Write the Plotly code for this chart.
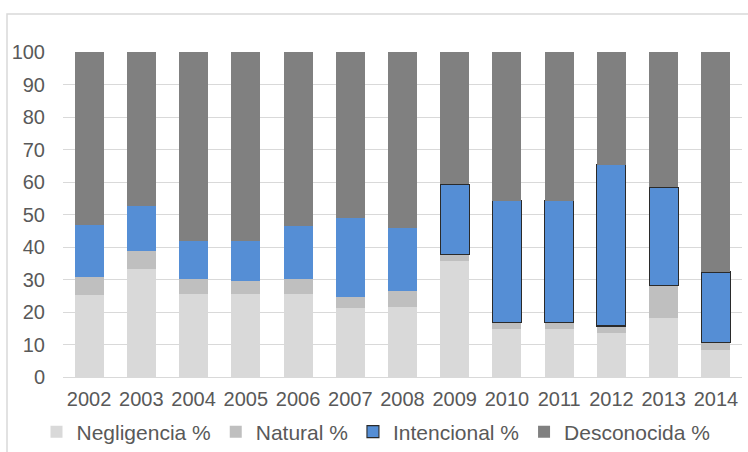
import plotly.graph_objects as go

years = ["2002", "2003", "2004", "2005", "2006", "2007", "2008",
         "2009", "2010", "2011", "2012", "2013", "2014"]
negligencia = [25.1, 33.1, 25.5, 25.5, 25.5, 21.2, 21.6, 35.8, 14.7, 14.7, 13.6, 18.3, 8.4]
natural = [5.7, 5.6, 4.6, 4.0, 4.8, 3.5, 4.9, 1.8, 2.2, 2.2, 2.1, 9.8, 2.2]
intencional = [16.1, 13.9, 11.7, 12.3, 16.1, 24.3, 19.2, 21.7, 37.4, 37.4, 49.6, 30.3, 21.7]
desconocida = [round(100 - a - b - c, 1) for a, b, c in zip(negligencia, natural, intencional)]
outlined = [0, 0, 0, 0, 0, 0, 0, 1, 1, 1, 1, 1, 1]

FONT = "Liberation Sans, Arial, sans-serif"
TXT = "#595959"

fig = go.Figure()
fig.add_bar(x=years, y=negligencia, name="Negligencia %",
            marker=dict(color="#D9D9D9", line=dict(width=0)))
fig.add_bar(x=years, y=natural, name="Natural %",
            marker=dict(color="#BFBFBF", line=dict(width=0)))
# fed in reverse order so the legend swatch takes the outlined style
fig.add_bar(x=years[::-1], y=intencional[::-1], name="Intencional %",
            marker=dict(color="#558ED5",
                        line=dict(color="#2a2a2a", width=[1.1 * o for o in outlined[::-1]])))
fig.add_bar(x=years, y=desconocida, name="Desconocida %",
            marker=dict(color="#808080", line=dict(width=0)))

fig.update_layout(
    width=748, height=452,
    barmode="stack", bargap=0.445,
    margin=dict(l=63, r=6, t=52, b=75, autoexpand=False),
    paper_bgcolor="white", plot_bgcolor="white",
    font=dict(family=FONT, size=20, color=TXT),
    showlegend=True,
    legend=dict(orientation="h", x=(376 - 63) / 679, xanchor="center", xref="paper",
                y=1 - 432 / 452, yanchor="middle", yref="container",
                font=dict(family=FONT, size=21, color=TXT),
                traceorder="normal", itemclick=False, tracegroupgap=0),
    xaxis=dict(showgrid=False, showline=True, linecolor="#D9D9D9", linewidth=1,
               automargin=False, categoryorder="array", categoryarray=years,
               ticks="", ticklabelstandoff=4, tickfont=dict(size=20, color=TXT)),
    yaxis=dict(range=[0, 100], dtick=10, showgrid=True, gridcolor="#D9D9D9",
               automargin=False,
               gridwidth=1, zeroline=False, ticks="", ticklabelstandoff=17,
               tickfont=dict(size=20, color=TXT)),
    shapes=[dict(type="rect", xref="paper", yref="paper",
                 x0=-56 / 679, x1=1.1, y0=-0.5, y1=1 + 38 / 325,
                 line=dict(color="#D9D9D9", width=1.5), fillcolor="rgba(0,0,0,0)",
                 layer="below")],
)

fig.write_html("out.html")
